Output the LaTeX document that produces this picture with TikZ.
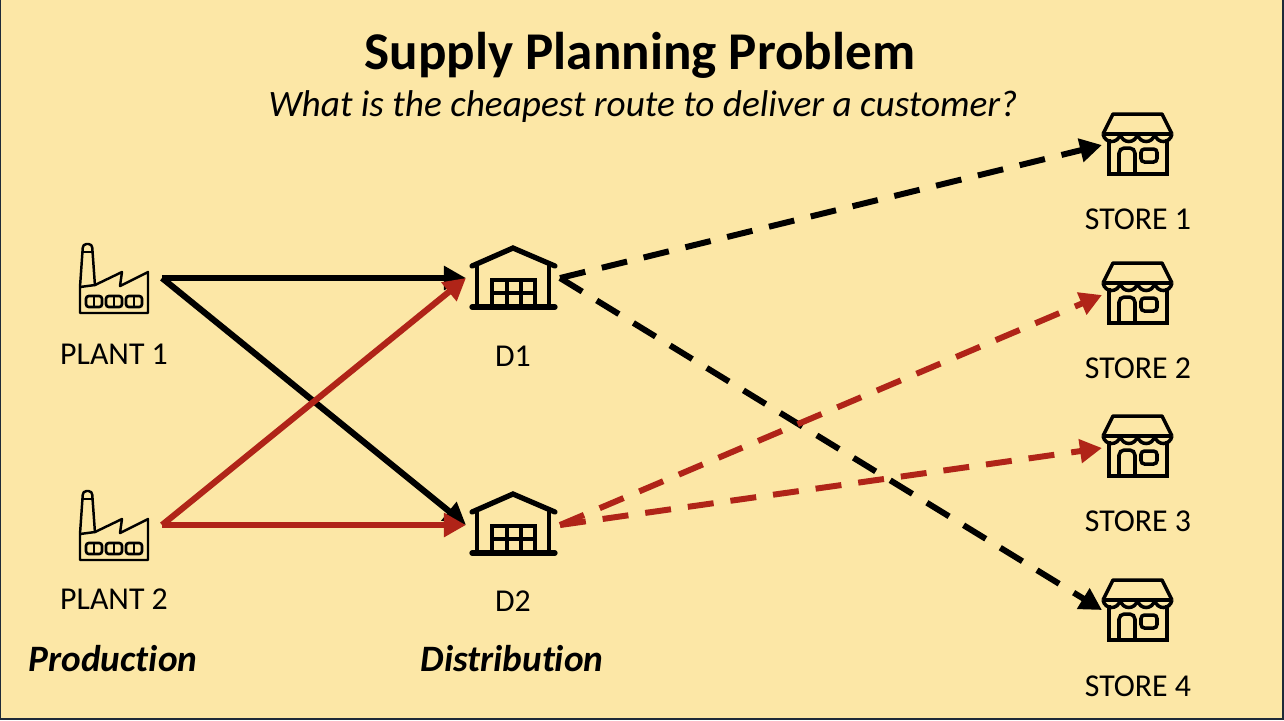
\documentclass[tikz,border=0pt]{standalone}
\usepackage{fontspec}
\setmainfont[Ligatures=NoCommon]{Carlito}
\usepackage{xcolor}
\usetikzlibrary{arrows.meta}
\definecolor{paper}{HTML}{FCE7A6}
\definecolor{routered}{HTML}{B02418}
\definecolor{edgedark}{HTML}{1E2A38}
\tikzset{
    holder/.style = {minimum height=1pt, inner sep=0pt, outer sep=0pt},
    plantholder/.style = {holder, minimum width=0.96cm},
    depotholder/.style = {holder, minimum width=0.94cm},
    storeholder/.style = {holder, minimum width=0.72cm},
    caption/.style = {font=\fontsize{9.05}{11}\selectfont, inner sep=0pt},
    stage/.style = {font=\fontsize{10.6}{12}\selectfont\bfseries\itshape, inner sep=0pt},
    solidroute/.style = {line width=1.75pt, -{Triangle[length=0.22cm,width=0.23cm]}},
    dashroute/.style = {line width=1.7pt, dash pattern=on 0.26cm off 0.17cm, -{Triangle[length=0.22cm,width=0.23cm]}},
    factory/.pic = {
        \draw[line width=0.7pt, line join=round]
            (-34,9) -- (-34,35) -- (34,35) -- (34,-6) -- (6,8) -- (8,-6) -- (-19,7) -- (-34,9);
        \draw[line width=0.7pt, rounded corners=1pt]
            (-34,9) -- (-31,-34) -- (-22,-34) -- (-19,8);
        \draw[line width=0.7pt] (-31.5,-26) -- (-21.5,-26);
        \foreach \winx in {-28,-8,12} {
            \draw[line width=0.75pt, rounded corners=0.8pt] (\winx,18) rectangle +(16,11);
            \draw[line width=0.6pt] (\winx+8,18) -- +(0,11);
        }
    },
    depot/.pic = {
        \draw[line width=1.5pt, line cap=round, line join=miter] (-41,-12) -- (0,-30) -- (42,-12);
        \draw[line width=1.25pt] (-36,-13) -- (-36,29) (36,-13) -- (36,29);
        \draw[line width=1.5pt, line cap=round] (-41,29) -- (42,29);
        \draw[line width=1.1pt] (-21,29) -- (-21,2) -- (22,2) -- (22,29);
        \draw[line width=1.1pt] (-6,2) -- (-6,29) (8,2) -- (8,29) (-21,15) -- (22,15);
    },
    shop/.pic = {
        \draw[line width=1pt, line join=round] (-35,-10) -- (-25,-30) -- (24,-30) -- (34,-10);
        \draw[line width=1pt, line join=round] (-35,-10) -- (34,-10);
        \foreach \scx in {-35,-17.75,-0.5,16.75} {
            \draw[line width=1pt] (\scx,-10) .. controls (\scx+2,0) and (\scx+15.25,0) .. (\scx+17.25,-10);
        }
        \draw[line width=1pt] (-29,-5) -- (-29,30) -- (29,30) -- (29,-5);
        \draw[line width=1pt, rounded corners=1.5pt] (-19,30) -- (-19,4) -- (-3,4) -- (-3,30);
        \draw[line width=1pt, rounded corners=1pt] (3,5) rectangle (19,18);
    }
}
\begin{document}
\begin{tikzpicture}[x=0.01cm, y=-0.01cm]
    \fill[paper] (0,0) rectangle (1284,720);
    \useasboundingbox (0,0) rectangle (1284,720);
    \fill[edgedark] (0,0) rectangle (1.5,720);
    \fill[edgedark] (0,718) rectangle (1284,720);
    \fill[edgedark] (1281.5,0) rectangle (1284,720);

    \node[inner sep=0pt, font=\fontsize{15.1}{17}\selectfont\bfseries] (title) at (640,55) {Supply Planning Problem};
    \node[inner sep=0pt, font=\fontsize{10.6}{13}\selectfont\itshape] (question) at (643,107) {What is the cheapest route to deliver a customer?};

    % sources and depots
    \node[plantholder] (plant1) at (114,278) {};
    \node[plantholder] (plant2) at (114,525) {};
    \node[depotholder] (d1) at (513,278) {};
    \node[depotholder] (d2) at (513,525) {};
    \node[storeholder] (store1) at (1138,145) {};
    \node[storeholder] (store2) at (1138,295) {};
    \node[storeholder] (store3) at (1138,448) {};
    \node[storeholder] (store4) at (1138,610) {};

    \pic at (114,278) {factory};
    \pic at (114,525) {factory};
    \pic at (513,278) {depot};
    \pic at (513,524) {depot};
    \pic at (1138,144) {shop};
    \pic at (1138,293) {shop};
    \pic at (1138,446) {shop};
    \pic at (1138,610) {shop};

    \node[caption] (plant1label) at (114,354) {PLANT 1};
    \node[caption] (plant2label) at (114,599) {PLANT 2};
    \node[caption] (d1label) at (513,356) {D1};
    \node[caption] (d2label) at (513,601) {D2};
    \node[caption] (store1label) at (1138,219) {STORE 1};
    \node[caption] (store2label) at (1138,368) {STORE 2};
    \node[caption] (store3label) at (1138,521) {STORE 3};
    \node[caption] (store4label) at (1138,686) {STORE 4};
    \node[stage] (production) at (113,659) {Production};
    \node[stage] (distribution) at (512,659) {Distribution};

    \draw[solidroute] (plant1.east) -- (d1.west);
    \draw[solidroute] (plant1.east) -- (d2.west);
    \draw[solidroute, routered] (plant2.east) -- (d1.west);
    \draw[solidroute, routered] (plant2.east) -- (d2.west);
    \draw[dashroute] (d1.east) -- (store1.west);
    \draw[dashroute] (d1.east) -- (store4.west);
    \draw[dashroute, routered] (d2.east) -- (store2.west);
    \draw[dashroute, routered] (d2.east) -- (store3.west);
\end{tikzpicture}
\end{document}
